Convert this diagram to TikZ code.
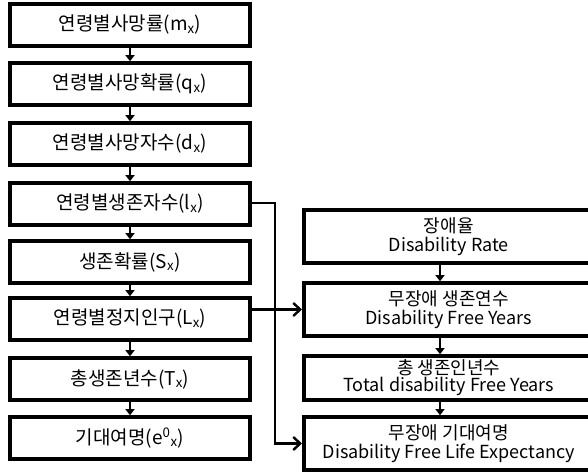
\documentclass[tikz,border=0pt]{standalone}
\usepackage{fontspec}
\setmainfont{Noto Sans CJK KR}
\usetikzlibrary{arrows.meta}
\begin{document}
\begin{tikzpicture}[x=1pt,y=1pt,
  lbox/.style={draw,line width=3.6pt,minimum width=240pt,minimum height=42pt,inner sep=0pt,font=\fontsize{19}{21}\selectfont,anchor=center},
  rbox/.style={draw,line width=3.6pt,minimum width=290pt,inner sep=0pt,align=center,font=\fontsize{18}{20}\selectfont,anchor=west},
  short/.style={line width=2.4pt,-{Triangle[length=6pt,width=9pt]}},
  long/.style={line width=2.6pt,-{Straight Barb[length=7pt,width=13pt,line width=2.4pt]}}
]
\useasboundingbox (0,0) rectangle (588,473);
\node[lbox] (a1) at (130,448) {연령별사망률(m\textsubscript{x})};
\node[lbox] (a2) at (130,389) {연령별사망확률(q\textsubscript{x})};
\node[lbox] (a3) at (130,329) {연령별사망자수(d\textsubscript{x})};
\node[lbox] (a4) at (130,269) {연령별생존자수(l\textsubscript{x})};
\node[lbox] (a5) at (130,211) {생존확률(S\textsubscript{x})};
\node[lbox] (a6) at (130,154) {연령별정지인구(L\textsubscript{x})};
\node[lbox] (a7) at (130,94) {총생존년수(T\textsubscript{x})};
\node[lbox] (a8) at (130,35) {기대여명(e\textsuperscript{0}\textsubscript{x})};
\node[rbox,minimum height=53pt] (b1) at (302,236.5) {장애율\\[-1pt]Disability Rate};
\node[rbox,minimum height=53pt] (b2) at (302,163.5) {무장애 생존연수\\[-1pt]Disability Free Years};
\node[rbox,minimum height=44pt] (b3) at (302,95) {총 생존인년수\\[-3pt]Total disability Free Years};
\node[rbox,minimum height=53pt] (b4) at (302,29.5) {무장애 기대여명\\[-1pt]Disability Free Life Expectancy};
\foreach \i/\j in {1/2,2/3,3/4,4/5,5/6,6/7,7/8}{\draw[short] (a\i) -- (a\j);}
\draw[short] (b1.south -| 440,0) -- (b2.north -| 440,0);
\draw[short] (b2.south -| 440,0) -- (b3.north -| 440,0);
\draw[short] (b3.south -| 440,0) -- (b4.north -| 440,0);
\coordinate (c1) at (275,270);
\draw[long] (a4.east |- c1) -- (c1) |- (b4.west);
\draw[long] (a6.east |- b2.west) -- (b2.west);
\end{tikzpicture}
\end{document}
